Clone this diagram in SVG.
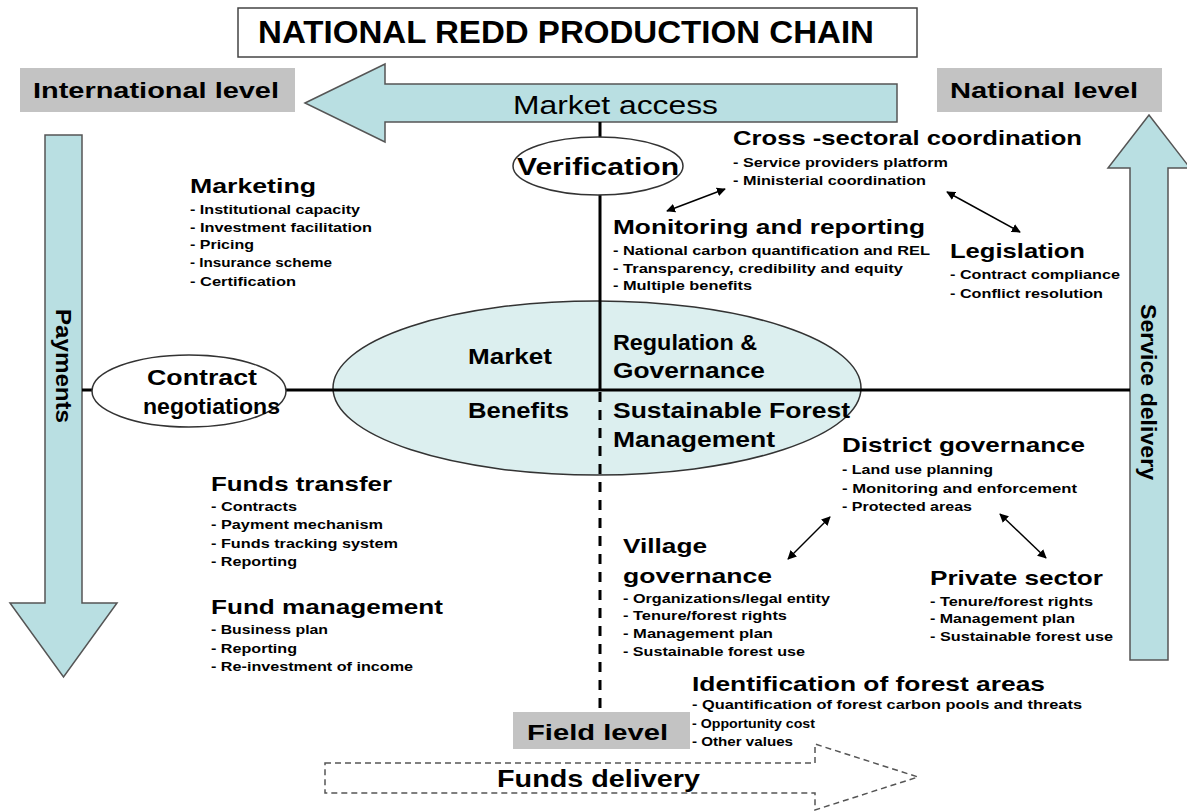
<svg xmlns="http://www.w3.org/2000/svg" width="1187" height="812" viewBox="0 0 1187 812">
<style>
text{font-family:"Liberation Sans",Arial,sans-serif;fill:#000;}
.h{font-size:21px;font-weight:bold;}
.i{font-size:13px;font-weight:bold;}
.q{font-size:22px;font-weight:bold;}
.lv{font-size:22px;font-weight:bold;}
.big{fill:#b9dfe2;stroke:#555;stroke-width:1.5;}
.gray{fill:#c3c3c3;}
.conn{stroke:#000;stroke-width:3;fill:none;}
.dbl{stroke:#000;stroke-width:1.5;fill:none;marker-start:url(#ah);marker-end:url(#ah);}
</style>
<defs>
<marker id="ah" viewBox="0 0 10 10" refX="9" refY="5" markerWidth="9" markerHeight="9" markerUnits="userSpaceOnUse" orient="auto-start-reverse">
<path d="M0,0 L10,5 L0,10 Z" fill="#000"/>
</marker>
</defs>
<rect width="1187" height="812" fill="#fff"/>

<g id="title">
<rect x="238" y="8" width="679" height="49" fill="#fff" stroke="#444" stroke-width="1.5"/>
<text x="258" y="43" font-size="31" font-weight="bold" textLength="616" lengthAdjust="spacingAndGlyphs">NATIONAL REDD PRODUCTION CHAIN</text>
</g>

<g id="international-level">
<rect class="gray" x="20" y="68" width="275" height="44"/>
<text class="lv" x="33" y="98" textLength="246" lengthAdjust="spacingAndGlyphs">International level</text>
</g>
<g id="national-level">
<rect class="gray" x="937" y="68" width="225" height="44"/>
<text class="lv" x="950" y="98" textLength="188" lengthAdjust="spacingAndGlyphs">National level</text>
</g>

<g id="market-access">
<path class="big" d="M305,103 L385,64 L385,84 L897,84 L897,122 L385,122 L385,142 Z"/>
<text x="513" y="114" font-size="25" fill="#222" textLength="205" lengthAdjust="spacingAndGlyphs">Market access</text>
</g>

<g id="payments">
<path class="big" d="M45,135 L82,135 L82,603 L117,603 L63.5,677 L10,603 L45,603 Z"/>
<text class="lv" transform="translate(63.5,366) rotate(90)" x="0" y="8" text-anchor="middle" textLength="114" lengthAdjust="spacingAndGlyphs">Payments</text>
</g>

<g id="service-delivery">
<path class="big" d="M1130,660 L1130,168 L1108,168 L1149,115 L1190,168 L1168,168 L1168,660 Z"/>
<text class="lv" transform="translate(1149,392) rotate(90)" x="0" y="8" text-anchor="middle" textLength="176" lengthAdjust="spacingAndGlyphs">Service delivery</text>
</g>

<g id="center-ellipse">
<ellipse cx="597" cy="388" rx="264" ry="87" fill="#dcefef" stroke="#333" stroke-width="1.5"/>
</g>

<g id="connectors">
<line class="conn" x1="600" y1="122" x2="600" y2="390"/>
<line class="conn" x1="82" y1="390" x2="1130" y2="390"/>
<line class="conn" x1="600" y1="392" x2="600" y2="712" stroke-dasharray="10,8"/>
<line class="dbl" x1="667" y1="211" x2="725" y2="189"/>
<line class="dbl" x1="947" y1="192" x2="1020" y2="232"/>
<line class="dbl" x1="788" y1="559" x2="830" y2="517"/>
<line class="dbl" x1="1000" y1="514" x2="1046" y2="558"/>
</g>

<g id="verification">
<ellipse cx="598" cy="166" rx="85" ry="29" fill="#fff" stroke="#333" stroke-width="1.5"/>
<text x="598" y="175" font-size="24" font-weight="bold" text-anchor="middle" textLength="162" lengthAdjust="spacingAndGlyphs">Verification</text>
</g>

<g id="contract-negotiations">
<ellipse cx="189" cy="391" rx="97" ry="36" fill="#fff" stroke="#333" stroke-width="1.5"/>
<text class="q" x="147" y="385" textLength="110" lengthAdjust="spacingAndGlyphs">Contract</text>
<text class="q" x="143" y="414" textLength="137" lengthAdjust="spacingAndGlyphs">negotiations</text>
</g>

<g id="quadrants">
<text class="q" x="468" y="364" textLength="84" lengthAdjust="spacingAndGlyphs">Market</text>
<text class="q" x="613" y="350" textLength="144" lengthAdjust="spacingAndGlyphs">Regulation &amp;</text>
<text class="q" x="613" y="378" textLength="152" lengthAdjust="spacingAndGlyphs">Governance</text>
<text class="q" x="468" y="418" textLength="101" lengthAdjust="spacingAndGlyphs">Benefits</text>
<text class="q" x="613" y="418" textLength="237" lengthAdjust="spacingAndGlyphs">Sustainable Forest</text>
<text class="q" x="613" y="447" textLength="162" lengthAdjust="spacingAndGlyphs">Management</text>
</g>

<g id="marketing">
<text class="h" x="190" y="193" textLength="126" lengthAdjust="spacingAndGlyphs">Marketing</text>
<text class="i" x="190" y="214" textLength="170" lengthAdjust="spacingAndGlyphs">- Institutional capacity</text>
<text class="i" x="190" y="232" textLength="182" lengthAdjust="spacingAndGlyphs">- Investment facilitation</text>
<text class="i" x="190" y="249" textLength="64" lengthAdjust="spacingAndGlyphs">- Pricing</text>
<text class="i" x="190" y="267" textLength="142" lengthAdjust="spacingAndGlyphs">- Insurance scheme</text>
<text class="i" x="190" y="286" textLength="106" lengthAdjust="spacingAndGlyphs">- Certification</text>
</g>

<g id="cross-sectoral">
<text class="h" x="733" y="145" textLength="349" lengthAdjust="spacingAndGlyphs">Cross -sectoral coordination</text>
<text class="i" x="733" y="167" textLength="215" lengthAdjust="spacingAndGlyphs">- Service providers platform</text>
<text class="i" x="733" y="185" textLength="193" lengthAdjust="spacingAndGlyphs">- Ministerial coordination</text>
</g>

<g id="monitoring">
<text class="h" x="613" y="234" textLength="312" lengthAdjust="spacingAndGlyphs">Monitoring and reporting</text>
<text class="i" x="613" y="255" textLength="317" lengthAdjust="spacingAndGlyphs">- National carbon quantification and REL</text>
<text class="i" x="613" y="273" textLength="290" lengthAdjust="spacingAndGlyphs">- Transparency, credibility and equity</text>
<text class="i" x="613" y="290" textLength="139" lengthAdjust="spacingAndGlyphs">- Multiple benefits</text>
</g>

<g id="legislation">
<text class="h" x="950" y="258" textLength="135" lengthAdjust="spacingAndGlyphs">Legislation</text>
<text class="i" x="950" y="279" textLength="170" lengthAdjust="spacingAndGlyphs">- Contract compliance</text>
<text class="i" x="950" y="298" textLength="153" lengthAdjust="spacingAndGlyphs">- Conflict resolution</text>
</g>

<g id="district-governance">
<text class="h" x="842" y="452" textLength="243" lengthAdjust="spacingAndGlyphs">District governance</text>
<text class="i" x="842" y="474" textLength="151" lengthAdjust="spacingAndGlyphs">- Land use planning</text>
<text class="i" x="842" y="493" textLength="235" lengthAdjust="spacingAndGlyphs">- Monitoring and  enforcement</text>
<text class="i" x="842" y="511" textLength="130" lengthAdjust="spacingAndGlyphs">- Protected areas</text>
</g>

<g id="village-governance">
<text class="h" x="623" y="553" textLength="84" lengthAdjust="spacingAndGlyphs">Village</text>
<text class="h" x="623" y="583" textLength="149" lengthAdjust="spacingAndGlyphs">governance</text>
<text class="i" x="623" y="603" textLength="207" lengthAdjust="spacingAndGlyphs">- Organizations/legal entity</text>
<text class="i" x="623" y="620" textLength="164" lengthAdjust="spacingAndGlyphs">- Tenure/forest rights</text>
<text class="i" x="623" y="638" textLength="150" lengthAdjust="spacingAndGlyphs">- Management plan</text>
<text class="i" x="623" y="656" textLength="182" lengthAdjust="spacingAndGlyphs">- Sustainable forest use</text>
</g>

<g id="private-sector">
<text class="h" x="930" y="585" textLength="173" lengthAdjust="spacingAndGlyphs">Private sector</text>
<text class="i" x="930" y="606" textLength="163" lengthAdjust="spacingAndGlyphs">- Tenure/forest rights</text>
<text class="i" x="930" y="623" textLength="145" lengthAdjust="spacingAndGlyphs">- Management plan</text>
<text class="i" x="930" y="641" textLength="183" lengthAdjust="spacingAndGlyphs">- Sustainable forest use</text>
</g>

<g id="funds-transfer">
<text class="h" x="211" y="491" textLength="181" lengthAdjust="spacingAndGlyphs">Funds transfer</text>
<text class="i" x="211" y="511" textLength="86" lengthAdjust="spacingAndGlyphs">- Contracts</text>
<text class="i" x="211" y="529" textLength="172" lengthAdjust="spacingAndGlyphs">- Payment mechanism</text>
<text class="i" x="211" y="548" textLength="187" lengthAdjust="spacingAndGlyphs">- Funds tracking system</text>
<text class="i" x="211" y="566" textLength="86" lengthAdjust="spacingAndGlyphs">- Reporting</text>
</g>

<g id="fund-management">
<text class="h" x="211" y="614" textLength="232" lengthAdjust="spacingAndGlyphs">Fund management</text>
<text class="i" x="211" y="634" textLength="117" lengthAdjust="spacingAndGlyphs">- Business plan</text>
<text class="i" x="211" y="653" textLength="86" lengthAdjust="spacingAndGlyphs">- Reporting</text>
<text class="i" x="211" y="671" textLength="202" lengthAdjust="spacingAndGlyphs">- Re-investment of income</text>
</g>

<g id="identification">
<text class="h" x="692" y="691" textLength="353" lengthAdjust="spacingAndGlyphs">Identification of forest areas</text>
<text class="i" x="692" y="709" textLength="390" lengthAdjust="spacingAndGlyphs">- Quantification of forest carbon pools and threats</text>
<text class="i" x="692" y="728" textLength="123" lengthAdjust="spacingAndGlyphs">- Opportunity cost</text>
<text class="i" x="692" y="746" textLength="101" lengthAdjust="spacingAndGlyphs">- Other values</text>
</g>

<g id="field-level">
<rect class="gray" x="513" y="712" width="177" height="37"/>
<text class="lv" x="527" y="740" textLength="141" lengthAdjust="spacingAndGlyphs">Field level</text>
</g>

<g id="funds-delivery">
<path d="M325,763 L815,763 L815,744 L918,777 L815,810 L815,793 L325,793 Z" fill="none" stroke="#555" stroke-width="1.5" stroke-dasharray="6,4"/>
<text x="497" y="787" font-size="24" font-weight="bold" textLength="203" lengthAdjust="spacingAndGlyphs">Funds delivery</text>
</g>
</svg>
